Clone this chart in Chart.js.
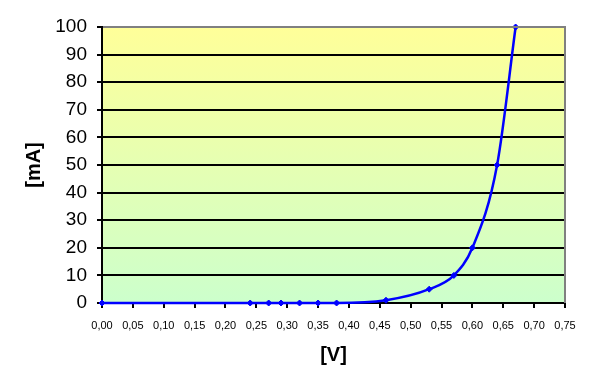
<!DOCTYPE html>
<html>
<head>
<meta charset="utf-8">
<script src="https://cdn.jsdelivr.net/npm/chart.js@4.4.0/dist/chart.umd.min.js"></script>
<style>
html,body{margin:0;padding:0;background:#fff;}
#wrap{width:592px;height:388px;position:relative;}
</style>
</head>
<body>
<div id="wrap"><canvas id="c" width="592" height="388"></canvas></div>
<script>
const voltage = [0.00, 0.24, 0.27, 0.29, 0.32, 0.35, 0.38, 0.46, 0.53, 0.57, 0.60, 0.64, 0.67];
const current = [0, 0, 0, 0, 0, 0, 0, 1, 5, 10, 20, 50, 100];
const xTitle = '[V]';
const yTitle = '[mA]';

const points = voltage.map((v, i) => ({x: v, y: current[i]}));

const bgPlugin = {
  id: 'bg',
  beforeDraw(chart) {
    const {ctx, chartArea: a} = chart;
    const g = ctx.createLinearGradient(0, a.top, 0, a.bottom);
    g.addColorStop(0, '#FFFF99');
    g.addColorStop(1, '#CCFFCC');
    ctx.save();
    ctx.fillStyle = g;
    ctx.fillRect(a.left, a.top, a.right - a.left, a.bottom - a.top);
    ctx.restore();
  },
  afterDatasetsDraw(chart) {
    const {ctx, chartArea: a} = chart;
    ctx.save();
    ctx.strokeStyle = '#808080';
    ctx.lineWidth = 2;
    ctx.beginPath();
    ctx.moveTo(a.left + 1, a.top);
    ctx.lineTo(a.right, a.top);
    ctx.lineTo(a.right, a.bottom);
    ctx.stroke();
    ctx.restore();
  }
};

new Chart(document.getElementById('c'), {
  type: 'scatter',
  data: {
    datasets: [{
      data: points,
      showLine: true,
      borderColor: '#0000FF',
      backgroundColor: '#0000FF',
      borderWidth: 2.5,
      pointStyle: 'rectRot',
      pointRadius: 3,
      pointBorderWidth: 1,
      cubicInterpolationMode: 'monotone',
      clip: false
    }]
  },
  options: {
    responsive: false,
    animation: false,
    devicePixelRatio: 1,
    layout: {padding: {left: 0, right: 27, top: 27, bottom: 0}},
    plugins: {legend: {display: false}, tooltip: {enabled: false}},
    scales: {
      x: {
        type: 'linear',
        min: 0, max: 0.75,
        afterFit(s) { s.height = 85; },
        border: {color: '#000', width: 2},
        grid: {drawOnChartArea: false, drawTicks: true, tickLength: 5, color: '#000', lineWidth: 2},
        ticks: {
          stepSize: 0.05,
          padding: 11,
          color: '#000',
          maxRotation: 0,
          autoSkip: false,
          font: {family: 'Liberation Sans', size: 11},
          callback: v => (Math.round(v * 100) / 100).toFixed(2).replace('.', ',')
        },
        title: {
          display: true, text: xTitle, color: '#000',
          font: {family: 'Liberation Sans', size: 20, weight: 'bold'},
          padding: {top: 0, bottom: 21}
        }
      },
      y: {
        min: 0, max: 100,
        afterFit(s) { s.width = 102; },
        border: {color: '#000', width: 2},
        grid: {drawOnChartArea: true, drawTicks: true, tickLength: 5, color: '#000', lineWidth: 2},
        ticks: {
          stepSize: 10,
          padding: 10,
          color: '#000',
          font: {family: 'Liberation Sans', size: 19}
        },
        title: {
          display: true, text: yTitle, color: '#000',
          font: {family: 'Liberation Sans', size: 20, weight: 'bold'},
          padding: {top: 22, bottom: 0}
        }
      }
    }
  },
  plugins: [bgPlugin]
});
</script>
</body>
</html>
